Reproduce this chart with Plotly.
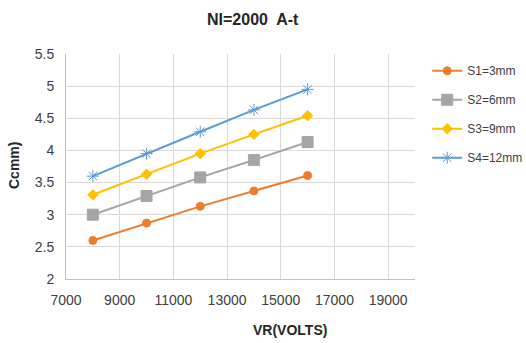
import plotly.graph_objects as go

vr = [8000, 10000, 12000, 14000, 16000]
s1 = [2.60, 2.87, 3.13, 3.37, 3.61]
s2 = [3.00, 3.29, 3.58, 3.85, 4.13]
s3 = [3.31, 3.63, 3.95, 4.25, 4.54]
s4 = [3.60, 3.95, 4.29, 4.63, 4.95]
names = ["S1=3mm", "S2=6mm", "S3=9mm", "S4=12mm"]
series = [s1, s2, s3, s4]
colors = ["#ED7D31", "#A5A5A5", "#FFC000", "#5B9BD5"]
symbols = ["circle", "square", "diamond", "asterisk-open"]
sizes = [8, 11, 8, 10]
x_ticks = [7000, 9000, 11000, 13000, 15000, 17000, 19000]
y_ticks = [2, 2.5, 3, 3.5, 4, 4.5, 5, 5.5]

font = "Liberation Sans, Arial, sans-serif"

fig = go.Figure()
for n, ys, c, sym, sz in zip(names, series, colors, symbols, sizes):
    fig.add_trace(go.Scatter(
        x=vr, y=ys, name=n, mode="lines+markers", legendgroup=n,
        line=dict(color=c, width=2),
        marker=dict(symbol=sym, size=sz, color=c, line=dict(color=c, width=1)),
    ))

fig.update_layout(
    width=526, height=343,
    margin=dict(l=66, r=111, t=54, b=64, autoexpand=False),
    paper_bgcolor="white", plot_bgcolor="white",
    font=dict(family=font, size=14, color="#404040"),
    showlegend=True,
    legend=dict(x=1.035, y=0.99, xanchor="left", yanchor="top",
                font=dict(size=12, color="#404040"), tracegroupgap=10,
                itemwidth=30, bgcolor="rgba(0,0,0,0)"),
    xaxis=dict(range=[7000, 20000], tickvals=x_ticks, ticktext=[str(v) for v in x_ticks],
               showgrid=True, gridcolor="#D9D9D9", gridwidth=1,
               showline=True, linecolor="#BFBFBF", linewidth=1, zeroline=False,
               ticks="", tickfont=dict(size=14, color="#404040"), ticklabelstandoff=8),
    yaxis=dict(range=[2, 5.5], tickvals=y_ticks, ticktext=[f"{v:g}" for v in y_ticks],
               showgrid=True, gridcolor="#D9D9D9", gridwidth=1,
               showline=True, linecolor="#BFBFBF", linewidth=1, zeroline=False,
               ticks="", tickfont=dict(size=14, color="#404040"), ticklabelstandoff=8),
    annotations=[
        dict(text="<b>NI=2000  A-t</b>", x=253, y=20, showarrow=False,
             font=dict(size=16, color="#262626")),
        dict(text="<b>VR(VOLTS)</b>", x=290, y=330, showarrow=False,
             font=dict(size=14, color="#262626")),
        dict(text="<b>Ccmm)</b>", x=14, y=166, showarrow=False, textangle=-90,
             font=dict(size=14, color="#262626")),
    ],
)

# convert pixel positions of annotations into paper coordinates
W, H = 526, 343
l, r, t, b = 66, 111, 54, 64
pw, ph = W - l - r, H - t - b
for a in fig.layout.annotations:
    px, py = a.x, a.y
    a.xref = "paper"; a.yref = "paper"
    a.x = (px - l) / pw
    a.y = (H - b - py) / ph
    a.xanchor = "center"; a.yanchor = "middle"

fig.write_html("out.html")
